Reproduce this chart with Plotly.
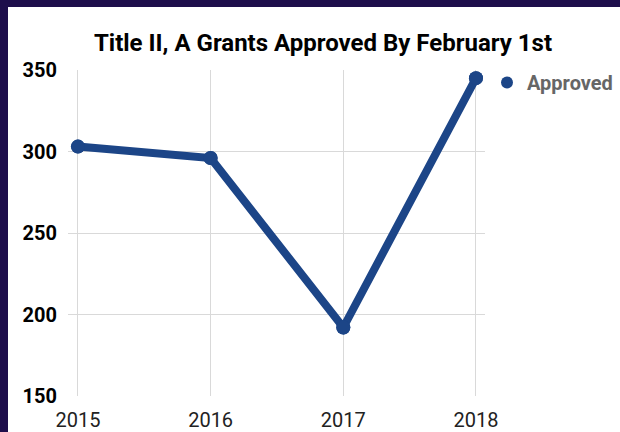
import plotly.graph_objects as go

years = [2015, 2016, 2017, 2018]
approved = [303, 296, 192, 345]
y_ticks = [150, 200, 250, 300, 350]
title_text = "Title II, A Grants Approved By February 1st"
series_name = "Approved"

W, H = 620, 432
ml, mr, mt, mb = 68, 135, 70, 36
pw = W - ml - mr
ph = H - mt - mb

def px_x(p):
    return (p - ml) / pw

def px_y(p):
    return 1 - (p - mt) / ph

line_color = "#1c4587"

fig = go.Figure()
fig.add_trace(go.Scatter(
    x=years, y=approved, mode="lines+markers",
    line=dict(color=line_color, width=8),
    marker=dict(color=line_color, size=14),
    showlegend=False, hoverinfo="skip"))
fig.add_trace(go.Scatter(
    x=years, y=approved, mode="markers", name=series_name,
    marker=dict(color=line_color, size=14), showlegend=True))

fig.update_layout(
    width=W, height=H,
    margin=dict(l=ml, r=mr, t=mt, b=mb, pad=0, autoexpand=False),
    paper_bgcolor="#1e0e4b",
    plot_bgcolor="rgba(0,0,0,0)",
    font=dict(family="Roboto", color="#000"),
    title=dict(text=title_text, x=323 / W, xanchor="center", xref="container",
               y=1 - 43 / H, yanchor="middle", yref="container",
               font=dict(family="Roboto", size=24, color="#000", weight="bold")),
    showlegend=True,
    legend=dict(x=px_x(487), y=px_y(63), xanchor="left", yanchor="top",
                font=dict(family="Roboto", size=20, color="#666", weight="bold"),
                bgcolor="rgba(0,0,0,0)", itemsizing="constant"),
    shapes=[dict(type="rect", xref="paper", yref="paper", layer="below",
                 x0=px_x(8), x1=px_x(W + 5), y0=px_y(H + 5), y1=px_y(7),
                 fillcolor="white", line=dict(width=0))],
)
fig.update_xaxes(
    range=[2014.925, 2018.068], tickvals=years, ticktext=[str(y) for y in years],
    showgrid=True, gridcolor="#d9d9d9", gridwidth=1, zeroline=False,
    showline=False, ticks="", tickfont=dict(family="Roboto", size=20, color="#222"),
    ticklabelstandoff=10, automargin=False)
fig.update_yaxes(
    range=[150, 350], tickvals=y_ticks, showgrid=True, gridcolor="#d9d9d9", gridwidth=1,
    zeroline=False, showline=False, ticks="",
    tickfont=dict(family="Roboto", size=20, color="#000", weight="bold"),
    ticklabelstandoff=10, automargin=False)

fig.write_html("out.html", config={"displayModeBar": False},
               post_script="document.body.style.margin='0';document.body.style.padding='0';document.body.style.overflow='hidden';")
